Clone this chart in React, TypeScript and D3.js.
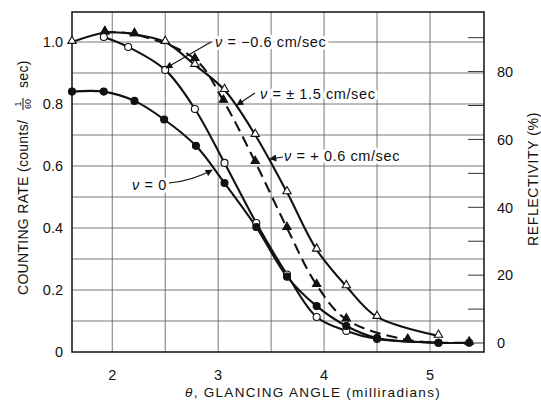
import React, { useEffect, useRef } from 'react';
import * as d3 from 'd3';

// glancing angle (mrad) and counting rate, one pair of arrays per symbol
const thetaOpenTri = [1.62, 1.93, 2.21, 2.5, 2.78, 3.06, 3.35, 3.65, 3.93, 4.21, 4.5, 5.08];
const rateOpenTri = [1.0, 1.03, 1.025, 1.0, 0.926, 0.845, 0.7, 0.515, 0.33, 0.212, 0.113, 0.052];

const thetaFilledTri = [1.93, 2.21, 2.78, 3.05, 3.35, 3.65, 3.93, 4.21, 4.79, 5.37];
const rateFilledTri = [1.032, 1.025, 0.945, 0.81, 0.613, 0.4, 0.216, 0.105, 0.039, 0.03];

const thetaOpenCirc = [1.92, 2.15, 2.5, 2.78, 3.06, 3.36, 3.65, 3.93, 4.21, 4.5, 5.08];
const rateOpenCirc = [1.016, 0.984, 0.91, 0.784, 0.61, 0.416, 0.25, 0.113, 0.068, 0.042, 0.03];

const thetaFilledCirc = [1.62, 1.92, 2.21, 2.49, 2.79, 3.06, 3.36, 3.65, 3.93, 4.21, 4.5, 5.08, 5.37];
const rateFilledCirc = [0.84, 0.84, 0.81, 0.75, 0.665, 0.545, 0.403, 0.243, 0.148, 0.084, 0.045, 0.03, 0.03];

const xTicks = [2, 3, 4, 5];
const xGrid = [2, 2.5, 3, 3.5, 4, 4.5, 5];
const yTicks = [0, 0.2, 0.4, 0.6, 0.8, 1.0];
const yGrid = [0.1, 0.2, 0.3, 0.4, 0.5, 0.6, 0.7, 0.8, 0.9, 1.0];
const reflTicks = [0, 10, 20, 30, 40, 50, 60, 70, 80, 90];
const reflLabels = [0, 20, 40, 60, 80];

const FONT = '"Liberation Sans", Arial, sans-serif';

const App: React.FC = () => {
  const svgRef = useRef<SVGSVGElement>(null);

  useEffect(() => {
    if (!svgRef.current) return;
    const svg = d3.select(svgRef.current);
    svg.selectAll('*').remove();

    const left = 72, right = 484, top = 12, bottom = 352;

    const x = d3.scaleLinear().domain([1.62, 5.51]).range([left, right]);
    const y = d3.scaleLinear().domain([0, 340 / 310]).range([bottom, top]);
    // reflectivity axis on the right: 0% sits a little above zero counts
    const yR = d3.scaleLinear().domain([0, 90]).range([y(0.029), y(1.014)]);

    svg.append('rect').attr('width', 541).attr('height', 400).attr('fill', '#fff');

    const defs = svg.append('defs');
    defs.append('marker')
      .attr('id', 'arrow')
      .attr('viewBox', '0 0 10 10')
      .attr('refX', 9).attr('refY', 5)
      .attr('markerWidth', 9).attr('markerHeight', 7)
      .attr('markerUnits', 'userSpaceOnUse')
      .attr('orient', 'auto')
      .append('path').attr('d', 'M0,0 L10,5 L0,10 Z').attr('fill', '#111');

    // grid
    const grid = svg.append('g').attr('stroke', '#555').attr('stroke-width', 0.8);
    xGrid.forEach(t => {
      grid.append('line').attr('x1', x(t)).attr('x2', x(t)).attr('y1', top).attr('y2', bottom);
    });
    yGrid.forEach(v => {
      grid.append('line').attr('x1', left).attr('x2', right).attr('y1', y(v)).attr('y2', y(v));
    });

    // frame
    svg.append('rect')
      .attr('x', left).attr('y', top)
      .attr('width', right - left).attr('height', bottom - top)
      .attr('fill', 'none').attr('stroke', '#111').attr('stroke-width', 1.5);

    // right-hand reflectivity ticks (inside)
    reflTicks.forEach(r => {
      svg.append('line')
        .attr('x1', right - 16).attr('x2', right)
        .attr('y1', yR(r)).attr('y2', yR(r))
        .attr('stroke', '#333').attr('stroke-width', 1);
    });

    const txt = (sel: any) => sel.attr('font-family', FONT).attr('fill', '#111');

    yTicks.forEach(v => {
      txt(svg.append('text'))
        .attr('x', 63).attr('y', y(v)).attr('dy', '0.36em')
        .attr('text-anchor', 'end').attr('font-size', 14.5)
        .text(v === 0 ? '0' : d3.format('.1f')(v));
    });
    xTicks.forEach(t => {
      txt(svg.append('text'))
        .attr('x', x(t)).attr('y', 380)
        .attr('text-anchor', 'middle').attr('font-size', 14.5)
        .text(t);
    });
    reflLabels.forEach(r => {
      txt(svg.append('text'))
        .attr('x', 497).attr('y', yR(r)).attr('dy', '0.36em')
        .attr('font-size', 14.5)
        .text(r);
    });

    // axis titles
    const xt = txt(svg.append('text'))
      .attr('x', 313).attr('y', 397)
      .attr('text-anchor', 'middle').attr('font-size', 13.5)
      .attr('letter-spacing', 1.3);
    xt.append('tspan').attr('font-style', 'italic').text('θ');
    xt.append('tspan').text(', GLANCING ANGLE (milliradians)');

    const yl = svg.append('g').attr('transform', 'translate(28,0) rotate(-90)');
    txt(yl.append('text'))
      .attr('x', -295).attr('y', 0).attr('font-size', 14)
      .attr('letter-spacing', 0.3)
      .text('COUNTING RATE (counts/');
    txt(yl.append('text'))
      .attr('x', -104).attr('y', -7).attr('font-size', 9)
      .attr('text-anchor', 'middle').text('1');
    yl.append('line')
      .attr('x1', -110).attr('x2', -98).attr('y1', -5).attr('y2', -5)
      .attr('stroke', '#111').attr('stroke-width', 1);
    txt(yl.append('text'))
      .attr('x', -104).attr('y', 3).attr('font-size', 9)
      .attr('text-anchor', 'middle').text('60');
    txt(yl.append('text'))
      .attr('x', -88).attr('y', 0).attr('font-size', 14)
      .attr('letter-spacing', 0.3)
      .text('sec)');

    txt(svg.append('text'))
      .attr('transform', 'translate(538,179) rotate(-90)')
      .attr('text-anchor', 'middle').attr('font-size', 14)
      .attr('letter-spacing', 0.6)
      .text('REFLECTIVITY (%)');

    // curves
    const line = d3.line<[number, number]>()
      .x(d => x(d[0])).y(d => y(d[1]))
      .curve(d3.curveCatmullRom.alpha(0.5));
    const zip = (a: number[], b: number[]) => a.map((t, i) => [t, b[i]] as [number, number]);

    const openTri = zip(thetaOpenTri, rateOpenTri);
    const filledTri = zip(thetaFilledTri, rateFilledTri);
    const openCirc = zip(thetaOpenCirc, rateOpenCirc);
    const filledCirc = zip(thetaFilledCirc, rateFilledCirc);

    const curves = svg.append('g').attr('fill', 'none').attr('stroke', '#111').attr('stroke-width', 2.1);
    curves.append('path').attr('d', line(openTri));
    curves.append('path').attr('d', line(openCirc));
    curves.append('path').attr('d', line(filledCirc));
    curves.append('path').attr('d', line(filledTri)).attr('stroke-dasharray', '11,6');

    const tri = d3.symbol().type(d3.symbolTriangle).size(30);
    const marks = svg.append('g').attr('stroke', '#111').attr('stroke-width', 1.1);
    openTri.forEach(d => {
      marks.append('path').attr('d', tri()).attr('fill', '#fff')
        .attr('transform', `translate(${x(d[0])},${y(d[1]) - 1})`);
    });
    openCirc.forEach(d => {
      marks.append('circle').attr('cx', x(d[0])).attr('cy', y(d[1])).attr('r', 3.5).attr('fill', '#fff');
    });
    filledCirc.forEach(d => {
      marks.append('circle').attr('cx', x(d[0])).attr('cy', y(d[1])).attr('r', 3.5).attr('fill', '#111');
    });
    filledTri.forEach(d => {
      marks.append('path').attr('d', tri()).attr('fill', '#111')
        .attr('transform', `translate(${x(d[0])},${y(d[1]) - 1})`);
    });

    // curve labels with their arrows
    const labels: { text: string; x: number; y: number }[] = [
      { text: ' = −0.6 cm/sec', x: 215, y: 47 },
      { text: ' = ± 1.5 cm/sec', x: 260, y: 99 },
      { text: ' = + 0.6 cm/sec', x: 284, y: 161 },
      { text: ' = 0', x: 132, y: 190 },
    ];
    labels.forEach(l => {
      const t = txt(svg.append('text'))
        .attr('x', l.x).attr('y', l.y).attr('font-size', 14.5)
        .attr('letter-spacing', 0.6)
        .attr('stroke', '#fff').attr('stroke-width', 6)
        .attr('stroke-linejoin', 'round')
        .style('paint-order', 'stroke');
      t.append('tspan').attr('font-style', 'italic').text('ν');
      t.append('tspan').text(l.text);
    });

    const arrows = [
      'M211,42 L166,68',
      'M255,93 L237,105',
      'M283,157 L270,159',
      'M169,183 Q192,181 212,170',
    ];
    arrows.forEach(d => {
      svg.append('path').attr('d', d)
        .attr('fill', 'none').attr('stroke', '#111').attr('stroke-width', 1.1)
        .attr('marker-end', 'url(#arrow)');
    });
  }, []);

  return (
    <svg
      ref={svgRef}
      width={541}
      height={400}
      style={{ position: 'absolute', left: 0, top: 0 }}
    />
  );
};

export default App;
